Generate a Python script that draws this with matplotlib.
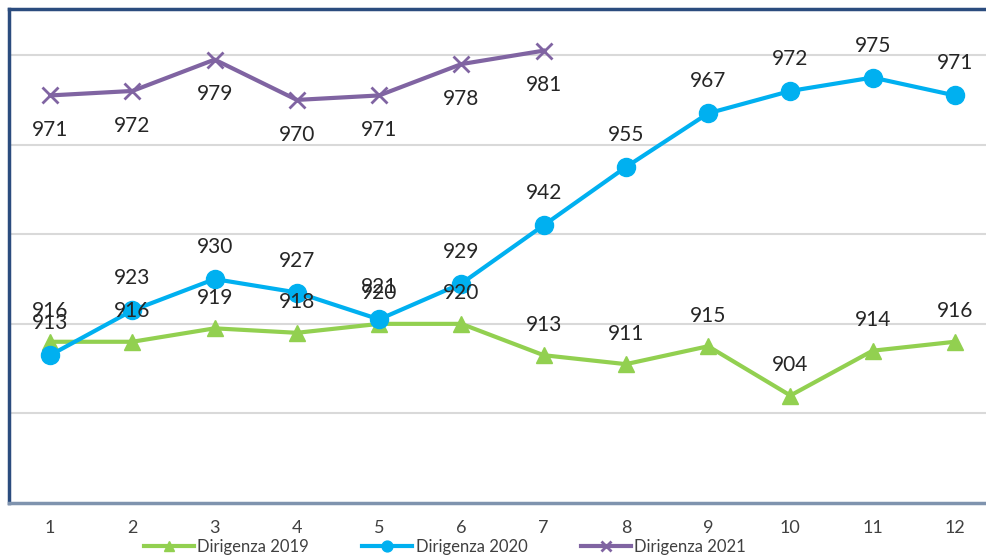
import numpy as np
import matplotlib.pyplot as plt

plt.rcParams['font.family'] = ['Lato', 'DejaVu Sans']

mesi = [1, 2, 3, 4, 5, 6, 7, 8, 9, 10, 11, 12]
dir_2019 = [916, 916, 919, 918, 920, 920, 913, 911, 915, 904, 914, 916]
dir_2020 = [913, 923, 930, 927, 921, 929, 942, 955, 967, 972, 975, 971]
dir_2021 = [971, 972, 979, 970, 971, 978, 981]

fig = plt.figure(figsize=(9.87, 5.58), dpi=100)
ax = fig.add_axes([9 / 987, 1 - 503 / 558, 1.0, 494 / 558])

x19 = np.arange(len(dir_2019))
x20 = np.arange(len(dir_2020))
x21 = np.arange(len(dir_2021))

ax.plot(x19, dir_2019, '-^', color='#92D050', lw=3, ms=11, label='Dirigenza 2019', zorder=3)
ax.plot(x20, dir_2020, '-o', color='#00B0F0', lw=3, ms=13, label='Dirigenza 2020', zorder=4)
ax.plot(x21, dir_2021, '-x', color='#8064A2', lw=3, ms=12, mew=2, label='Dirigenza 2021', zorder=5)

# etichette dati (sopra le linee)
for x, v in zip(x19, dir_2019):
    ax.annotate(str(v), (x, v), xytext=(0, 22), textcoords='offset points',
                ha='center', va='center', fontsize=15, color='#262626', zorder=10)
for x, v in zip(x20, dir_2020):
    ax.annotate(str(v), (x, v), xytext=(0, 23), textcoords='offset points',
                ha='center', va='center', fontsize=15, color='#262626', zorder=10)
for x, v in zip(x21, dir_2021):
    ax.annotate(str(v), (x, v), xytext=(0, -25), textcoords='offset points',
                ha='center', va='center', fontsize=15, color='#262626', zorder=10)

ax.set_xlim(-0.5, 11.5)
ax.set_ylim(880, 990.3)
ax.set_yticks([900, 920, 940, 960, 980])
ax.set_yticklabels([])
ax.tick_params(axis='y', length=0)
ax.set_xticks(x19)
ax.set_xticklabels([str(m) for m in mesi], fontsize=13, color='#404040')
ax.tick_params(axis='x', length=0, pad=12)
ax.grid(axis='y', color='#D9D9D9', lw=1.5)
ax.set_axisbelow(True)

for s in ['left', 'top']:
    ax.spines[s].set_color('#2B4C7E')
    ax.spines[s].set_linewidth(2.5)
ax.spines['bottom'].set_color('#7F93AE')
ax.spines['bottom'].set_linewidth(2.5)
ax.spines['right'].set_visible(False)

fig.legend(loc='center', bbox_to_anchor=(445 / 987, 1 - 547 / 558), ncol=3,
           frameon=False, fontsize=12, handlelength=3.0, handletextpad=0.2,
           columnspacing=3.2, labelcolor='#404040', markerscale=0.6)

fig.savefig('out.png', dpi=100)
